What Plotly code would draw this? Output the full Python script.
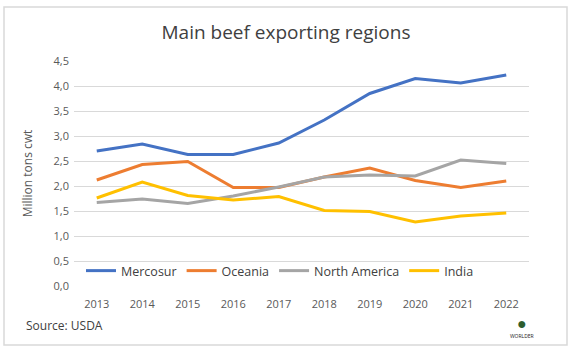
import plotly.graph_objects as go

years = ["2013", "2014", "2015", "2016", "2017", "2018", "2019", "2020", "2021", "2022"]
mercosur = [2.70, 2.84, 2.63, 2.63, 2.86, 3.32, 3.85, 4.15, 4.06, 4.22]
oceania = [2.12, 2.43, 2.49, 1.97, 1.97, 2.18, 2.36, 2.11, 1.97, 2.10]
north_america = [1.67, 1.74, 1.65, 1.80, 1.98, 2.18, 2.22, 2.20, 2.52, 2.45]
india = [1.76, 2.08, 1.81, 1.72, 1.79, 1.51, 1.49, 1.28, 1.40, 1.46]
y_ticks = [0, 0.5, 1.0, 1.5, 2.0, 2.5, 3.0, 3.5, 4.0, 4.5]
y_labels = ["0,0", "0,5", "1,0", "1,5", "2,0", "2,5", "3,0", "3,5", "4,0", "4,5"]

series = [
    ("Mercosur", mercosur, "#4472C4"),
    ("Oceania", oceania, "#ED7D31"),
    ("North America", north_america, "#A5A5A5"),
    ("India", india, "#FFC000"),
]

fig = go.Figure()
for name, vals, col in series:
    fig.add_trace(go.Scatter(x=years, y=vals, name=name, mode="lines",
                             line=dict(color=col, width=3)))

L, R, T, B = 74, 46, 61, 67
W, H = 575, 353
pw, ph = W - L - R, H - T - B

def px(p):
    return (p - L) / pw

def py(p):
    return (H - B - p) / ph

fig.update_layout(
    width=W, height=H,
    margin=dict(l=L, r=R, t=T, b=B),
    paper_bgcolor="white", plot_bgcolor="white",
    font=dict(family="Open Sans, Liberation Sans, sans-serif", color="#595959", size=11),
    title=dict(text="Main beef exporting regions", x=286 / W, xref="container", xanchor="center",
               y=1 - 32 / H, yanchor="middle",
               font=dict(size=19, color="#404040")),
    showlegend=True,
    legend=dict(orientation="h", x=px(280), xanchor="center", y=py(271), yanchor="middle",
                bgcolor="rgba(0,0,0,0)", font=dict(size=12.5, color="#404040"),
                itemwidth=30, tracegroupgap=0),
    xaxis=dict(type="category", range=[-0.5, 9.5], showgrid=False, showline=False, ticks="",
               tickfont=dict(size=11, color="#595959"), ticklabelstandoff=10,
               fixedrange=True),
    yaxis=dict(range=[0, 4.5], tickvals=y_ticks, ticktext=y_labels,
               showgrid=True, gridcolor="#D9D9D9", gridwidth=1, zeroline=False,
               showline=False, ticks="", tickfont=dict(size=11, color="#595959"),
               ticklabelstandoff=4,
               title=dict(text="Million tons cwt", font=dict(size=12, color="#595959"), standoff=18)),
    shapes=[dict(type="rect", xref="paper", yref="paper",
                 x0=px(4), x1=px(567), y0=py(345), y1=py(7),
                 line=dict(color="#D9D9D9", width=1.5), fillcolor="rgba(0,0,0,0)", layer="below")],
    annotations=[
        dict(text="Source: USDA", xref="paper", yref="paper", x=px(24), y=py(325),
             xanchor="left", yanchor="middle", showarrow=False,
             font=dict(size=12, color="#404040")),
        dict(text="\u25CF", xref="paper", yref="paper", x=px(522), y=py(323),
             xanchor="center", yanchor="middle", showarrow=False,
             font=dict(size=16, color="#2E5E2E")),
        dict(text="WORLDER", xref="paper", yref="paper", x=px(522), y=py(336),
             xanchor="center", yanchor="middle", showarrow=False,
             font=dict(size=5, color="#222222")),
    ],
)

fig.write_html("out.html")
